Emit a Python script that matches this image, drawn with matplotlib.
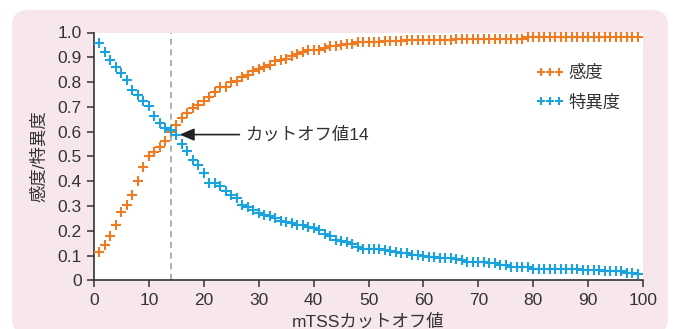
import matplotlib
matplotlib.use("Agg")
import matplotlib.pyplot as plt
from matplotlib.patches import FancyBboxPatch
import numpy as np

plt.rcParams['font.family'] = ['Liberation Sans', 'Noto Sans CJK JP', 'DejaVu Sans']

# ---- data ----
cutoff = list(range(1, 100))
sensitivity = [
    0.113, 0.143, 0.180, 0.225, 0.275, 0.305, 0.346, 0.400, 0.456, 0.500,
    0.517, 0.538, 0.563, 0.600, 0.626, 0.655, 0.677, 0.696, 0.706, 0.725,
    0.739, 0.759, 0.779, 0.782, 0.802, 0.806, 0.822, 0.829, 0.845, 0.852,
    0.860, 0.870, 0.884, 0.888, 0.892, 0.904, 0.915, 0.923, 0.930, 0.930,
    0.930, 0.938, 0.945, 0.946, 0.951, 0.955, 0.955, 0.962, 0.962, 0.962,
    0.962, 0.962, 0.965, 0.965, 0.965, 0.965, 0.969, 0.969, 0.969, 0.969,
    0.969, 0.969, 0.969, 0.969, 0.969, 0.973, 0.973, 0.973, 0.973, 0.973,
    0.973, 0.973, 0.973, 0.973, 0.973, 0.973, 0.973, 0.973, 0.982, 0.982,
    0.982, 0.982, 0.982, 0.982, 0.982, 0.982, 0.982, 0.982, 0.982, 0.982,
    0.982, 0.982, 0.982, 0.982, 0.982, 0.982, 0.982, 0.982, 0.982,
]
specificity = [
    0.958, 0.923, 0.888, 0.860, 0.837, 0.809, 0.767, 0.747, 0.723, 0.703,
    0.665, 0.634, 0.615, 0.607, 0.585, 0.550, 0.520, 0.485, 0.466, 0.432,
    0.394, 0.392, 0.381, 0.359, 0.346, 0.332, 0.305, 0.295, 0.283, 0.270,
    0.265, 0.260, 0.252, 0.241, 0.235, 0.230, 0.224, 0.222, 0.214, 0.211,
    0.203, 0.187, 0.179, 0.163, 0.157, 0.155, 0.147, 0.133, 0.125, 0.125,
    0.125, 0.125, 0.122, 0.117, 0.115, 0.109, 0.109, 0.103, 0.101, 0.098,
    0.093, 0.093, 0.092, 0.091, 0.090, 0.087, 0.082, 0.075, 0.074, 0.074,
    0.074, 0.068, 0.068, 0.063, 0.060, 0.055, 0.052, 0.052, 0.052, 0.047,
    0.047, 0.047, 0.047, 0.047, 0.047, 0.045, 0.047, 0.044, 0.042, 0.042,
    0.042, 0.042, 0.037, 0.036, 0.036, 0.036, 0.031, 0.031, 0.026,
]
best_cutoff = 14
best_value = 0.588
x_ticks = list(range(0, 101, 10))
y_ticks = [round(v * 0.1, 1) for v in range(0, 11)]
label_sens = "感度"
label_spec = "特異度"
xlabel = "mTSSカットオフ値"
ylabel = "感度/特異度"
annot_text = "カットオフ値14"

# ---- style ----
ORANGE = "#EF7B22"
BLUE = "#1AA3DF"
PINK = "#F7E6EC"
DARK = "#333333"
FS = 12.5

W, H = 674, 329
fig = plt.figure(figsize=(W / 100, H / 100), dpi=100)
fig.patch.set_facecolor("white")

panel = FancyBboxPatch((0.12, -0.05), 6.56, 3.24,
                       boxstyle="round,pad=0,rounding_size=0.16",
                       transform=fig.dpi_scale_trans,
                       facecolor=PINK, edgecolor="none", zorder=-10)
fig.patches.append(panel)

ax = fig.add_axes([94 / W, (H - 280.3) / H, (643 - 94) / W, (280.3 - 32.5) / H])
ax.set_zorder(5)
ax.set_facecolor("white")

ax.axvline(best_cutoff, color="#9a9a9a", lw=1.1, ls=(0, (4, 3)), zorder=1)

ax.plot(cutoff, sensitivity, ls="none", marker="+", ms=6.5, mew=1.5,
        color=ORANGE, label=label_sens, zorder=3, clip_on=False)
ax.plot(cutoff, specificity, ls="none", marker="+", ms=6.5, mew=1.5,
        color=BLUE, label=label_spec, zorder=3, clip_on=False)

ax.annotate(annot_text, xy=(15.6, best_value), xytext=(27.5, best_value),
            fontsize=FS, color=DARK, ha="left", va="center",
            arrowprops=dict(arrowstyle="-|>,head_length=0.7,head_width=0.3",
                            color="#222222", lw=1.2, shrinkA=2, shrinkB=0))

ax.set_xlim(0, 100)
ax.set_ylim(0, 1.0)
ax.set_xticks(x_ticks)
ax.set_yticks(y_ticks)
ax.set_yticklabels([f"{v:.1f}" if v > 0 else "0" for v in y_ticks])
ax.tick_params(axis="both", direction="out", length=5, width=1.1,
               color=DARK, labelcolor=DARK, labelsize=FS, pad=4)
for s in ["top", "right"]:
    ax.spines[s].set_visible(False)
for s in ["left", "bottom"]:
    ax.spines[s].set_color(DARK)
    ax.spines[s].set_linewidth(1.2)

ax.set_xlabel(xlabel, fontsize=FS, color=DARK, labelpad=4)
ax.set_ylabel(ylabel, fontsize=FS, color=DARK, labelpad=7)

leg = ax.legend(loc="upper left", bbox_to_anchor=(0.805, 0.87), frameon=False,
                fontsize=FS, numpoints=3, handlelength=1.6, handletextpad=0.3,
                borderpad=0, borderaxespad=0, markerscale=0.8, labelspacing=0.75)
for t in leg.get_texts():
    t.set_color(DARK)

fig.savefig("out.png", dpi=100, facecolor=fig.get_facecolor())
